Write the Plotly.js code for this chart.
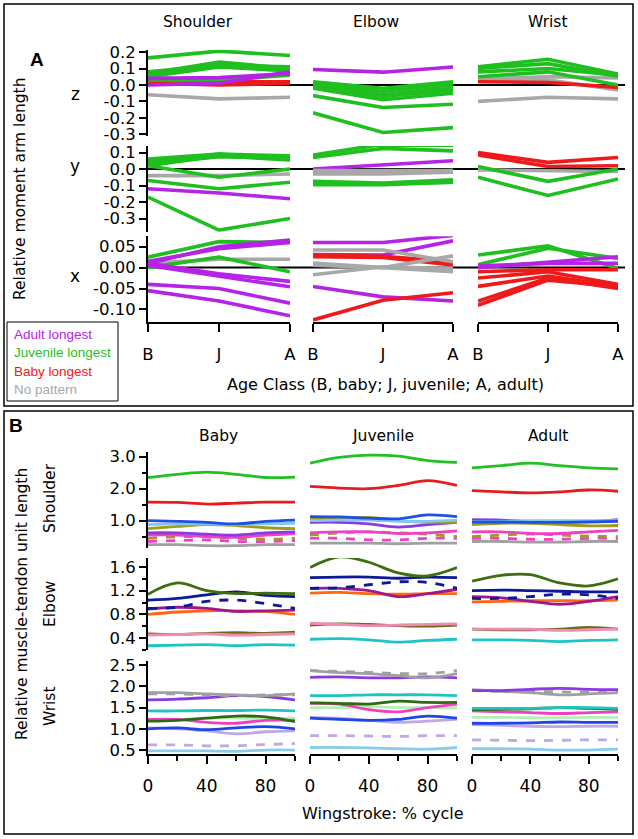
<!DOCTYPE html>
<html><head><meta charset="utf-8">
<script src="https://cdn.plot.ly/plotly-3.0.1.min.js"></script>
<style>html,body{margin:0;padding:0;background:#fff}#chart{width:638px;height:839px}</style>
</head><body><div id="chart"></div>
<script>
// ================= DATA =================
// Panel A: relative moment arm length at B, J, A
const ageClasses = ['B','J','A'];
const groupNames = {adult:'Adult longest', juvenile:'Juvenile longest', baby:'Baby longest', none:'No pattern'};

const shoulderZ = [
  {g:'none', v:[-0.06,-0.085,-0.075]},
  {g:'none', v:[0.04,0.035,0.07]},
  {g:'baby', v:[0.03,0.02,0.02]},
  {g:'baby', v:[0.01,0.0,0.01]},
  {g:'juvenile', v:[0.165,0.206,0.18]},
  {g:'juvenile', v:[0.07,0.14,0.10]},
  {g:'juvenile', v:[0.06,0.13,0.09]},
  {g:'juvenile', v:[0.08,0.12,0.11]},
  {g:'juvenile', v:[0.05,0.11,0.085]},
  {g:'juvenile', v:[0.03,0.03,0.06]},
  {g:'adult', v:[0.04,0.045,0.07]},
  {g:'adult', v:[0.0,0.01,0.08]}
];
const shoulderY = [
  {g:'none', v:[-0.04,-0.04,-0.03]},
  {g:'juvenile', v:[0.06,0.09,0.08]},
  {g:'juvenile', v:[0.05,0.085,0.07]},
  {g:'juvenile', v:[0.04,0.09,0.06]},
  {g:'juvenile', v:[0.03,0.075,0.065]},
  {g:'juvenile', v:[0.02,0.08,0.055]},
  {g:'juvenile', v:[0.02,-0.05,0.0]},
  {g:'juvenile', v:[-0.07,-0.12,-0.08]},
  {g:'adult', v:[-0.12,-0.145,-0.18]},
  {g:'juvenile', v:[-0.17,-0.37,-0.30]}
];
const shoulderX = [
  {g:'none', v:[0.01,0.02,0.02]},
  {g:'juvenile', v:[0.025,0.062,0.06]},
  {g:'adult', v:[0.01,0.05,0.066]},
  {g:'adult', v:[0.015,0.045,0.06]},
  {g:'juvenile', v:[0.0,0.025,-0.01]},
  {g:'adult', v:[0.01,-0.015,-0.033]},
  {g:'adult', v:[0.005,-0.02,-0.046]},
  {g:'adult', v:[-0.04,-0.05,-0.085]},
  {g:'adult', v:[-0.055,-0.08,-0.115]}
];
const elbowZ = [
  {g:'adult', v:[0.094,0.078,0.11]},
  {g:'juvenile', v:[0.02,-0.02,0.02]},
  {g:'juvenile', v:[0.01,-0.04,0.01]},
  {g:'juvenile', v:[0.0,-0.06,-0.01]},
  {g:'juvenile', v:[-0.01,-0.07,-0.03]},
  {g:'juvenile', v:[-0.02,-0.09,-0.05]},
  {g:'juvenile', v:[-0.065,-0.137,-0.118]},
  {g:'juvenile', v:[-0.17,-0.29,-0.26]}
];
const elbowY = [
  {g:'juvenile', v:[0.085,0.15,0.145]},
  {g:'juvenile', v:[0.07,0.125,0.11]},
  {g:'adult', v:[0.0,0.025,0.05]},
  {g:'none', v:[-0.01,-0.01,-0.01]},
  {g:'none', v:[-0.03,-0.03,-0.02]},
  {g:'none', v:[-0.02,-0.025,-0.01]},
  {g:'none', v:[-0.09,-0.09,-0.08]},
  {g:'juvenile', v:[-0.075,-0.085,-0.065]},
  {g:'juvenile', v:[-0.095,-0.095,-0.08]}
];
const elbowX = [
  {g:'adult', v:[0.06,0.06,0.077]},
  {g:'adult', v:[0.031,0.03,0.064]},
  {g:'baby', v:[0.03,0.027,0.014]},
  {g:'baby', v:[0.026,0.024,0.006]},
  {g:'none', v:[0.042,0.042,0.014]},
  {g:'none', v:[0.011,0.0,0.028]},
  {g:'none', v:[-0.017,0.002,-0.002]},
  {g:'none', v:[0.006,0.0,-0.01]},
  {g:'adult', v:[-0.045,-0.07,-0.08]},
  {g:'baby', v:[-0.125,-0.078,-0.06]}
];
const wristZ = [
  {g:'none', v:[-0.1,-0.075,-0.085]},
  {g:'none', v:[0.037,0.05,0.043]},
  {g:'none', v:[0.03,0.03,-0.03]},
  {g:'baby', v:[0.02,0.015,-0.015]},
  {g:'juvenile', v:[0.11,0.157,0.067]},
  {g:'juvenile', v:[0.1,0.13,0.053]},
  {g:'juvenile', v:[0.08,0.1,0.06]},
  {g:'juvenile', v:[0.05,0.08,0.0]}
];
const wristY = [
  {g:'none', v:[-0.005,-0.01,-0.015]},
  {g:'baby', v:[0.1,0.04,0.07]},
  {g:'baby', v:[0.085,0.015,0.02]},
  {g:'juvenile', v:[0.015,-0.075,0.0]},
  {g:'juvenile', v:[-0.05,-0.16,-0.06]}
];
const wristX = [
  {g:'juvenile', v:[0.03,0.052,-0.002]},
  {g:'juvenile', v:[0.007,0.046,0.022]},
  {g:'adult', v:[0.0,0.014,0.026]},
  {g:'adult', v:[0.004,0.01,0.01]},
  {g:'baby', v:[-0.01,-0.005,-0.005]},
  {g:'baby', v:[-0.025,-0.01,-0.04]},
  {g:'baby', v:[-0.045,-0.02,-0.045]},
  {g:'baby', v:[-0.08,-0.025,-0.05]},
  {g:'baby', v:[-0.09,-0.03,-0.045]}
];
const zTicks = [0.2,0.1,0.0,-0.1,-0.2,-0.3];
const yTicks = [0.1,0.0,-0.1,-0.2,-0.3];
const xTicks = [0.05,0.0,-0.05,-0.10];

// Panel B: relative muscle-tendon unit length over wingstroke (% cycle)
const pct = [0,20,40,60,80,100];
const shoulderBaby = {
  S10:[0.25,0.25,0.22,0.22,0.25,0.25], S9:[0.35,0.38,0.4,0.35,0.35,0.38], S8:[0.45,0.5,0.5,0.45,0.42,0.45],
  S7:[0.55,0.55,0.5,0.48,0.55,0.6], S6:[0.62,0.62,0.58,0.55,0.62,0.65], S5:[0.75,0.82,0.88,0.85,0.78,0.75],
  S4:[0.88,0.9,0.9,0.88,0.9,0.92], S3:[1.0,0.98,0.95,0.9,0.98,1.02], S2:[1.58,1.57,1.52,1.55,1.58,1.58],
  S1:[2.35,2.45,2.52,2.45,2.35,2.36]};
const shoulderJuv = {
  S10:[0.3,0.3,0.3,0.28,0.3,0.3], S9:[0.45,0.45,0.4,0.4,0.45,0.45], S8:[0.55,0.62,0.65,0.62,0.58,0.5],
  S7:[0.62,0.65,0.65,0.6,0.62,0.68], S6:[0.95,0.95,0.9,0.8,0.88,0.95], S5:[1.05,1.08,1.1,1.0,0.95,0.95],
  S4:[1.0,1.02,1.02,0.98,0.98,1.02], S3:[1.13,1.12,1.08,1.06,1.18,1.13], S2:[2.07,2.02,2.0,2.1,2.25,2.1],
  S1:[2.8,2.98,3.05,3.02,2.88,2.82]};
const shoulderAdult = {
  S10:[0.35,0.35,0.33,0.33,0.35,0.35], S9:[0.45,0.45,0.42,0.42,0.45,0.45], S8:[0.5,0.55,0.58,0.55,0.52,0.5],
  S7:[0.65,0.65,0.6,0.6,0.65,0.7], S6:[1.03,1.02,0.98,0.95,0.97,1.03], S5:[0.88,0.92,0.92,0.88,0.84,0.85],
  S4:[0.98,0.98,1.0,1.0,1.0,1.0], S3:[0.96,0.96,0.95,0.95,0.96,0.98], S2:[1.94,1.9,1.87,1.9,1.96,1.92],
  S1:[2.65,2.72,2.8,2.72,2.65,2.62]};
const elbowBaby = {
  E8:[0.27,0.28,0.29,0.27,0.29,0.28], E7:[0.47,0.46,0.48,0.49,0.48,0.5], E6:[0.45,0.46,0.47,0.45,0.46,0.47],
  E5:[0.8,0.84,0.86,0.86,0.85,0.8], E4:[0.89,0.92,0.9,0.85,0.86,0.87], E3:[0.9,0.92,1.02,1.04,0.98,0.9],
  E2:[1.04,1.07,1.13,1.18,1.12,1.1], E1:[1.14,1.33,1.2,1.15,1.16,1.15]};
const elbowJuv = {
  E8:[0.38,0.39,0.37,0.33,0.36,0.38], E7:[0.62,0.64,0.63,0.61,0.6,0.62], E6:[0.65,0.63,0.61,0.62,0.63,0.64],
  E5:[1.16,1.17,1.15,1.14,1.15,1.15], E4:[1.24,1.24,1.2,1.1,1.15,1.22], E3:[1.24,1.25,1.3,1.35,1.34,1.24],
  E2:[1.42,1.43,1.43,1.41,1.43,1.42], E1:[1.59,1.77,1.68,1.5,1.45,1.59]};
const elbowAdult = {
  E8:[0.37,0.37,0.36,0.34,0.36,0.37], E7:[0.55,0.54,0.54,0.55,0.58,0.55], E6:[0.55,0.55,0.55,0.53,0.54,0.55],
  E5:[1.01,1.02,1.03,1.03,1.03,1.04], E4:[1.1,1.08,1.02,0.97,1.02,1.1], E3:[1.07,1.07,1.1,1.14,1.13,1.07],
  E2:[1.2,1.21,1.2,1.19,1.18,1.18], E1:[1.36,1.46,1.47,1.33,1.28,1.4]};
const wristBaby = {
  W11:[0.48,0.48,0.48,0.47,0.5,0.5], W10:[0.62,0.62,0.6,0.6,0.63,0.65], W9:[1.02,1.0,0.95,0.88,0.93,0.95],
  W8:[1.0,1.02,0.98,1.02,1.05,1.0], W7:[1.2,1.22,1.25,1.25,1.24,1.25], W5:[1.22,1.22,1.15,1.13,1.2,1.2],
  W6:[1.18,1.2,1.25,1.3,1.28,1.17], W4:[1.42,1.42,1.43,1.43,1.44,1.42], W3:[1.68,1.7,1.73,1.78,1.76,1.68],
  W2:[1.82,1.82,1.8,1.78,1.8,1.8], W1:[1.85,1.85,1.82,1.8,1.78,1.82]};
const wristJuv = {
  W11:[0.56,0.56,0.55,0.53,0.52,0.56], W10:[0.84,0.84,0.83,0.82,0.84,0.84], W9:[1.27,1.25,1.2,1.15,1.18,1.22],
  W8:[1.25,1.22,1.2,1.22,1.3,1.25], W7:[1.5,1.5,1.52,1.5,1.5,1.5], W5:[1.6,1.58,1.45,1.4,1.5,1.58],
  W6:[1.61,1.6,1.58,1.65,1.62,1.62], W4:[1.78,1.78,1.8,1.8,1.8,1.78], W3:[2.21,2.22,2.2,2.2,2.22,2.2],
  W2:[2.37,2.35,2.33,2.3,2.3,2.37], W1:[2.37,2.32,2.3,2.25,2.2,2.3]};
const wristAdult = {
  W11:[0.53,0.53,0.52,0.5,0.5,0.52], W10:[0.74,0.73,0.72,0.73,0.74,0.74], W9:[1.1,1.08,1.06,1.05,1.06,1.06],
  W8:[1.13,1.13,1.14,1.16,1.15,1.15], W7:[1.27,1.27,1.26,1.26,1.27,1.27], W5:[1.42,1.4,1.38,1.36,1.38,1.4],
  W6:[1.45,1.46,1.47,1.5,1.48,1.46], W4:[1.48,1.48,1.48,1.5,1.5,1.48], W2:[1.9,1.88,1.88,1.87,1.86,1.88],
  W1:[1.92,1.88,1.85,1.8,1.82,1.85], W3:[1.9,1.9,1.93,1.95,1.93,1.92]};
const shoulderBTicks = [1.0,2.0,3.0];
const elbowBTicks = [0.4,0.8,1.2,1.6];
const wristBTicks = [0.5,1.0,1.5,2.0,2.5];
const pctTicks = [0,40,80];

// ================= STYLE =================
const W=638, H=839;
const PX = v => v/W, PY = v => 1 - v/H;
const FONT = '"DejaVu Sans", Verdana, sans-serif';
const LFONT = '"Liberation Sans", Arial, sans-serif';
const groupColor = {adult:'#b423e6', juvenile:'#1fbf1f', baby:'#ee1a1a', none:'#a8a8a8'};
const seriesStyle = {
  S1:{c:'#22c022'}, S2:{c:'#e81c1c'}, S3:{c:'#1e4fe6'}, S4:{c:'#80c8f0'}, S5:{c:'#a09a1e'},
  S6:{c:'#8a3ae0'}, S7:{c:'#f040c8'}, S8:{c:'#a09a1e', d:'dash'}, S9:{c:'#f040c8', d:'dash'}, S10:{c:'#a0a0a0'},
  E1:{c:'#3e6e10'}, E2:{c:'#0c1a96'}, E3:{c:'#0c1a96', d:'dash'}, E4:{c:'#a0188c'}, E5:{c:'#ff6614'},
  E6:{c:'#f08cb4'}, E7:{c:'#6e6a1c'}, E8:{c:'#1ec4c4'},
  W1:{c:'#a0a0a0'}, W2:{c:'#a0a0a0', d:'dash'}, W3:{c:'#8a3ae0'}, W4:{c:'#1ec4c4'}, W5:{c:'#f040c0'},
  W6:{c:'#2e6a10'}, W7:{c:'#b4f0b4'}, W8:{c:'#1e46e6'}, W9:{c:'#c0a8e8'}, W10:{c:'#c0a8e8', d:'dash'}, W11:{c:'#88ccf0'}
};

const traces = [];
function addA(rows, xa, ya){
  rows.forEach(r => traces.push({x:ageClasses, y:r.v, xaxis:xa, yaxis:ya, mode:'lines', name:groupNames[r.g],
    line:{color:groupColor[r.g], width:3.6}, showlegend:false, hoverinfo:'skip'}));
}
addA(shoulderZ,'x','y'); addA(elbowZ,'x2','y'); addA(wristZ,'x3','y');
addA(shoulderY,'x','y2'); addA(elbowY,'x2','y2'); addA(wristY,'x3','y2');
addA(shoulderX,'x','y3'); addA(elbowX,'x2','y3'); addA(wristX,'x3','y3');

function addB(obj, xa, ya){
  Object.keys(obj).forEach(k => { const s = seriesStyle[k];
    traces.push({x:pct, y:obj[k], xaxis:xa, yaxis:ya, mode:'lines', name:k,
      line:{color:s.c, width:2.8, dash:s.d||'solid', shape:'spline', smoothing:1}, showlegend:false, hoverinfo:'skip'});});
}
addB(shoulderBaby,'x4','y4'); addB(shoulderJuv,'x5','y4'); addB(shoulderAdult,'x6','y4');
addB(elbowBaby,'x4','y5'); addB(elbowJuv,'x5','y5'); addB(elbowAdult,'x6','y5');
addB(wristBaby,'x4','y6'); addB(wristJuv,'x5','y6'); addB(wristAdult,'x6','y6');

const axBase = {showline:true, linecolor:'#000', linewidth:2, ticks:'outside', ticklen:6, tickwidth:2, tickcolor:'#000',
  showgrid:false, zeroline:false, tickfont:{family:FONT, size:16.5, color:'#000'}, fixedrange:true};
function fmt(v,d){ return (v<0?'-':'') + Math.abs(v).toFixed(d); }
function yA(domPx, range, ticks, dec){
  return Object.assign({}, axBase, {domain:[PY(domPx[1]),PY(domPx[0])], range:range, anchor:'x',
    tickvals:ticks, ticktext:ticks.map(t=>fmt(t,dec)), ticklen:7});
}
function xA(domPx, anchor){
  return Object.assign({}, axBase, {domain:[PX(domPx[0]),PX(domPx[1])], anchor:anchor, type:'category', range:[0,2],
    tickvals:ageClasses, ticktext:ageClasses, ticklen:8, ticklabelstandoff:8});
}
function yB(domPx, range, ticks, dec, minorStep){
  const o = Object.assign({}, axBase, {domain:[PY(domPx[1]),PY(domPx[0])], range:range, anchor:'x4',
    tickvals:ticks, ticktext:ticks.map(t=>fmt(t,dec)), ticklen:7});
  if(minorStep) o.minor = {dtick:minorStep, ticklen:4, tickwidth:2, tickcolor:'#000', ticks:'outside'};
  return o;
}
function xB(domPx){
  return Object.assign({}, axBase, {domain:[PX(domPx[0]),PX(domPx[1])], anchor:'y6', range:[0,100],
    tickvals:pctTicks, ticktext:pctTicks.map(String), ticklen:8, ticklabelstandoff:7,
    tickfont:{family:FONT, size:17, color:'#000'},
    minor:{tickvals:[20,60,100], ticklen:5, tickwidth:2, tickcolor:'#000', ticks:'outside'}});
}

const layout = {
  width:W, height:H, margin:{l:0,r:0,t:0,b:0}, paper_bgcolor:'#fff', plot_bgcolor:'rgba(0,0,0,0)',
  showlegend:false, font:{family:FONT, color:'#000'},
  xaxis: xA([148,290],'y3'), xaxis2: xA([313,453],'y3'), xaxis3: xA([478,618],'y3'),
  yaxis: yA([49.7,135.8],[-0.31,0.215], zTicks, 1),
  yaxis2: yA([145.9,231.7],[-0.38,0.14], yTicks, 1),
  yaxis3: yA([236.2,322],[-0.13,0.075], xTicks, 2),
  xaxis4: xB([148,295]), xaxis5: xB([310,457]), xaxis6: xB([472,618]),
  yaxis4: yB([451.9,547.9],[0.15,3.15], shoulderBTicks, 1, 0.5),
  yaxis5: yB([558.1,649.9],[0.2,1.75], elbowBTicks, 1, 0.2),
  yaxis6: yB([660.8,754.3],[0.4,2.6], wristBTicks, 1, null),
  shapes: [
    {type:'rect', xref:'paper', yref:'paper', x0:PX(4), x1:PX(633), y0:PY(406), y1:PY(4), line:{color:'#000', width:1.5}},
    {type:'rect', xref:'paper', yref:'paper', x0:PX(4), x1:PX(633), y0:PY(834), y1:PY(411), line:{color:'#000', width:1.5}},
    {type:'rect', xref:'paper', yref:'paper', x0:PX(7), x1:PX(118), y0:PY(401), y1:PY(322), line:{color:'#000', width:1}, fillcolor:'#fff', layer:'above'},
    {type:'line', xref:'paper', yref:'y', x0:PX(148), x1:PX(625), y0:0, y1:0, line:{color:'#000', width:2}, layer:'below'},
    {type:'line', xref:'paper', yref:'y2', x0:PX(148), x1:PX(625), y0:0, y1:0, line:{color:'#000', width:2}, layer:'below'},
    {type:'line', xref:'paper', yref:'y3', x0:PX(148), x1:PX(625), y0:0, y1:0, line:{color:'#000', width:2}, layer:'below'}
  ],
  annotations: []
};
function ann(text, x, y, opt){
  layout.annotations.push(Object.assign({text:text, xref:'paper', yref:'paper', x:PX(x), y:PY(y), showarrow:false,
    xanchor:'center', yanchor:'middle', font:{family:FONT, size:15.5, color:'#000'}}, opt||{}));
}
ann('<b>A</b>', 37, 60, {font:{family:LFONT, size:19, color:'#000'}});
ann('<b>B</b>', 16, 425, {font:{family:LFONT, size:19, color:'#000'}});
ann('Shoulder', 198, 22); ann('Elbow', 376, 22); ann('Wrist', 547, 22);
ann('z', 75, 94, {font:{family:FONT, size:17, color:'#000'}});
ann('y', 75, 166, {font:{family:FONT, size:17, color:'#000'}});
ann('x', 75, 276, {font:{family:FONT, size:17, color:'#000'}});
ann('Relative moment arm length', 20, 189, {textangle:-90, font:{family:FONT, size:15.5, color:'#000'}});
ann('Age Class (B, baby; J, juvenile; A, adult)', 385, 384, {font:{family:FONT, size:16, color:'#000'}});
ann('Baby', 218, 436); ann('Juvenile', 383, 436); ann('Adult', 548, 436);
ann('Shoulder', 50, 498, {textangle:-90}); ann('Elbow', 50, 604, {textangle:-90}); ann('Wrist', 50, 707, {textangle:-90});
ann('Relative muscle-tendon unit length', 22, 604, {textangle:-90, font:{family:FONT, size:15.5, color:'#000'}});
ann('Wingstroke: % cycle', 383, 813, {font:{family:FONT, size:16, color:'#000'}});
const legendOrder = ['adult','juvenile','baby','none'];
legendOrder.forEach((g,i) => ann(groupNames[g], 12, 334 + i*18.5,
  {xanchor:'left', font:{family:LFONT, size:13.5, color:groupColor[g]}}));

Plotly.newPlot('chart', traces, layout, {staticPlot:true, displayModeBar:false});
</script></body></html>
